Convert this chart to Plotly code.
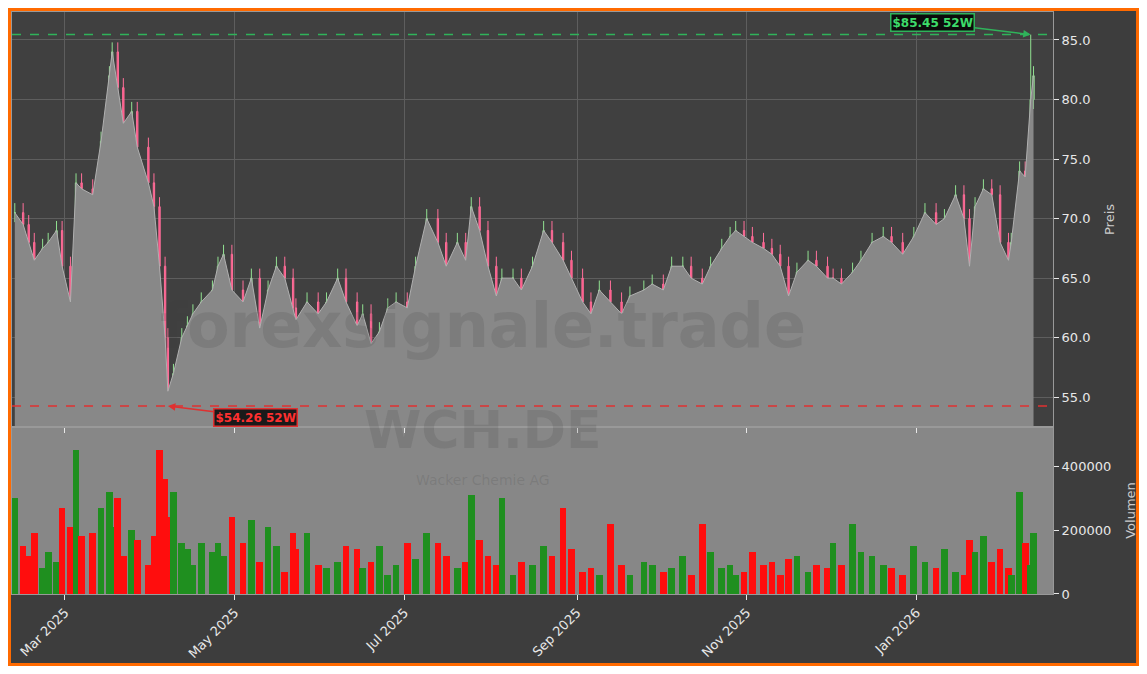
import pandas as pd
import plotly.graph_objects as go
from plotly.subplots import make_subplots

# closing prices, with the date each reading belongs to
dates = ["2025-02-11", "2025-02-14", "2025-02-16", "2025-02-18", "2025-02-21", "2025-02-23", "2025-02-26",
         "2025-02-28", "2025-03-03", "2025-03-05", "2025-03-07", "2025-03-11", "2025-03-14", "2025-03-17",
         "2025-03-18", "2025-03-20", "2025-03-22", "2025-03-25", "2025-03-27", "2025-03-31", "2025-04-02",
         "2025-04-04", "2025-04-06", "2025-04-07", "2025-04-09", "2025-04-12", "2025-04-14", "2025-04-16",
         "2025-04-19", "2025-04-23", "2025-04-25", "2025-04-27", "2025-04-30", "2025-05-04", "2025-05-07",
         "2025-05-10", "2025-05-13", "2025-05-16", "2025-05-19", "2025-05-22", "2025-05-23", "2025-05-27",
         "2025-05-31", "2025-06-03", "2025-06-07", "2025-06-10", "2025-06-14", "2025-06-16", "2025-06-19",
         "2025-06-22", "2025-06-25", "2025-06-28", "2025-07-02", "2025-07-05", "2025-07-09", "2025-07-13",
         "2025-07-16", "2025-07-20", "2025-07-23", "2025-07-25", "2025-07-28", "2025-07-31", "2025-08-03",
         "2025-08-05", "2025-08-09", "2025-08-12", "2025-08-16", "2025-08-20", "2025-08-23", "2025-08-27",
         "2025-08-30", "2025-09-03", "2025-09-06", "2025-09-09", "2025-09-13", "2025-09-17", "2025-09-20",
         "2025-09-25", "2025-09-28", "2025-10-02", "2025-10-05", "2025-10-09", "2025-10-12", "2025-10-16",
         "2025-10-19", "2025-10-23", "2025-10-26", "2025-10-28", "2025-10-31", "2025-11-03", "2025-11-07",
         "2025-11-10", "2025-11-13", "2025-11-16", "2025-11-19", "2025-11-23", "2025-11-26", "2025-11-30",
         "2025-12-02", "2025-12-05", "2025-12-09", "2025-12-12", "2025-12-16", "2025-12-20", "2025-12-23",
         "2025-12-27", "2025-12-31", "2026-01-04", "2026-01-08", "2026-01-11", "2026-01-15", "2026-01-18",
         "2026-01-20", "2026-01-22", "2026-01-25", "2026-01-28", "2026-01-31", "2026-02-03", "2026-02-04",
         "2026-02-07", "2026-02-09", "2026-02-11", "2026-02-12"]
close = [70.5, 69.5, 68.0, 66.5, 67.5, 68.0, 69.0, 66.0, 63.0, 73.0, 72.5, 72.0, 76.5, 82.0, 84.0, 81.0,
         78.0, 79.0, 76.0, 73.0, 71.0, 66.0, 60.0, 55.5, 57.0, 60.0, 61.0, 62.0, 63.0, 64.0, 66.0, 67.0,
         64.0, 63.0, 65.0, 60.8, 64.0, 66.0, 65.0, 62.5, 61.5, 63.0, 62.0, 63.0, 65.0, 63.0, 61.0, 62.0,
         59.5, 60.5, 62.5, 63.0, 62.5, 66.0, 70.0, 68.0, 66.0, 68.0, 66.5, 71.0, 69.0, 66.0, 63.5, 65.0,
         65.0, 64.0, 66.0, 69.0, 68.0, 66.5, 65.0, 63.0, 62.0, 64.0, 63.0, 62.0, 63.5, 64.0, 64.5, 64.0,
         66.0, 66.0, 65.0, 64.5, 66.0, 67.5, 68.5, 69.0, 68.5, 68.0, 67.5, 67.0, 66.0, 63.5, 65.5, 66.5,
         66.0, 65.0, 65.0, 64.5, 65.5, 66.5, 68.0, 68.5, 68.0, 67.0, 68.5, 70.5, 69.5, 70.0, 72.0, 70.0,
         66.0, 71.0, 72.5, 72.0, 68.0, 66.5, 68.0, 74.0, 73.5, 80.0, 82.0]
volume = [300000, 150000, 120000, 190000, 80000, 130000, 100000, 270000, 210000, 450000, 180000, 190000,
          270000, 320000, 210000, 300000, 120000, 200000, 170000, 90000, 180000, 450000, 360000, 240000,
          320000, 160000, 140000, 90000, 160000, 130000, 160000, 120000, 240000, 160000, 230000, 100000,
          210000, 150000, 70000, 190000, 140000, 190000, 90000, 80000, 100000, 150000, 140000, 80000,
          100000, 150000, 60000, 90000, 160000, 110000, 190000, 160000, 120000, 80000, 100000, 310000,
          170000, 120000, 90000, 300000, 60000, 100000, 90000, 150000, 120000, 270000, 140000, 70000,
          80000, 60000, 220000, 90000, 60000, 100000, 90000, 70000, 80000, 120000, 60000, 220000,
          130000, 80000, 90000, 60000, 70000, 130000, 90000, 100000, 60000, 110000, 120000, 70000,
          90000, 80000, 160000, 90000, 220000, 130000, 120000, 90000, 80000, 60000, 150000, 100000,
          80000, 140000, 70000, 60000, 170000, 130000, 180000, 100000, 140000, 80000, 60000, 320000,
          160000, 90000, 190000, 240000, 230000]
open_ = [close[0]] + close[:-1]
high = [max(o, c) + 0.8 for o, c in zip(open_, close)]
low = [min(o, c) - 0.8 for o, c in zip(open_, close)]
high[-2] = 85.45
low[23] = 54.26
dates = pd.to_datetime(dates)

BG = "#3d3d3d"
up_col, down_col = "#1f8f1f", "#ff0d0d"
vol_colors = [up_col if c >= o else down_col for o, c in zip(open_, close)]
DAY_MS = 86400000

fig = make_subplots(rows=2, cols=1, shared_xaxes=True, vertical_spacing=0, row_heights=[0.713, 0.287])

fig.add_trace(go.Scatter(x=dates, y=close, mode="lines", fill="tozeroy",
                         line=dict(color="#b0b0b0", width=1), fillcolor="#888888",
                         hoverinfo="skip"), row=1, col=1)
fig.add_trace(go.Candlestick(x=dates, open=open_, high=high, low=low, close=close,
                             increasing=dict(line=dict(color="#90e090", width=1), fillcolor="#7a7a7a"),
                             decreasing=dict(line=dict(color="#ff6f9a", width=1), fillcolor="#ff4f80"),
                             whiskerwidth=0), row=1, col=1)
fig.add_trace(go.Bar(x=dates, y=volume, marker_color=vol_colors, marker_line_width=0,
                     width=2.4 * DAY_MS), row=2, col=1)

fig.add_annotation(x=dates[-2], y=85.45, xref="x", yref="y", text="<b>$85.45 52W</b>",
                   showarrow=True, arrowhead=2, arrowcolor="#2fb35a", arrowwidth=1.5,
                   ax=-98, ay=-12, bgcolor="#0c0c0c", bordercolor="#2fb35a", borderwidth=1.5,
                   font=dict(color="#3ddc6a", size=12, family="DejaVu Sans"))
fig.add_annotation(x=dates[23], y=54.26, xref="x", yref="y", text="<b>$54.26 52W</b>",
                   showarrow=True, arrowhead=2, arrowcolor="#e03030", arrowwidth=1.5,
                   ax=88, ay=11, bgcolor="#1a1a1a", bordercolor="#e03030", borderwidth=1.5,
                   font=dict(color="#ff3030", size=12, family="DejaVu Sans"))

# watermarks
fig.add_annotation(x=0.452, y=0.462, xref="paper", yref="paper", text="<b>forexsignale.trade</b>",
                   showarrow=False, font=dict(size=62, color="rgba(60,60,60,0.16)", family="DejaVu Sans"))
fig.add_annotation(x=0.452, y=0.227, xref="paper", yref="paper", text="<b>WCH.DE</b>",
                   showarrow=False, font=dict(size=52, color="rgba(60,60,60,0.16)", family="DejaVu Sans"))
fig.add_annotation(x=0.452, y=0.179, xref="paper", yref="paper", text="Wacker Chemie AG",
                   showarrow=False, font=dict(size=14, color="rgba(60,60,60,0.16)", family="DejaVu Sans"))

fig.update_layout(
    width=1131, height=658, paper_bgcolor=BG, plot_bgcolor="#404040",
    margin=dict(l=4, r=86, t=4, b=72, autoexpand=False), showlegend=False, bargap=0,
    font=dict(family="DejaVu Sans", color="#e8e8e8", size=13),
)
fig.add_shape(type="rect", xref="x domain", yref="y2 domain", x0=0, x1=1, y0=0, y1=1,
              fillcolor="#878787", line_width=0, layer="below")
fig.add_shape(type="rect", xref="paper", yref="paper", x0=-0.0024, x1=1.0812, y0=-0.1211, y1=1.0043,
              line=dict(color="#ff6a00", width=3, dash="solid"))
fig.add_hline(y=85.45, line=dict(color="#2fb35a", width=1.5, dash="dash"), row=1, col=1)
fig.add_hline(y=54.26, line=dict(color="#e03030", width=1.5, dash="dash"), row=1, col=1)

fig.update_xaxes(rangeslider_visible=False, showgrid=True, gridcolor="#5e5e5e",
                 linecolor="#999999", mirror=True, dtick="M2", tick0="2025-03-01",
                 tickformat="%b %Y", tickangle=-45, ticks="outside", tickcolor="#e8e8e8",
                 range=["2025-02-10", "2026-02-19"])
fig.update_xaxes(showgrid=False, row=2, col=1)
fig.update_yaxes(side="right", showgrid=True, gridcolor="#5e5e5e", linecolor="#999999",
                 mirror=True, ticks="outside", tickcolor="#e8e8e8", zeroline=False)
fig.update_yaxes(range=[52.5, 87.35], dtick=5, tickformat=".1f",
                 title=dict(text="Preis", font=dict(size=13, color="#cccccc")), row=1, col=1)
fig.update_yaxes(range=[0, 522000], tickvals=[0, 200000, 400000], tickformat="d", showgrid=False,
                 title=dict(text="Volumen", font=dict(size=13, color="#cccccc")), row=2, col=1)

fig.write_html("out.html")
